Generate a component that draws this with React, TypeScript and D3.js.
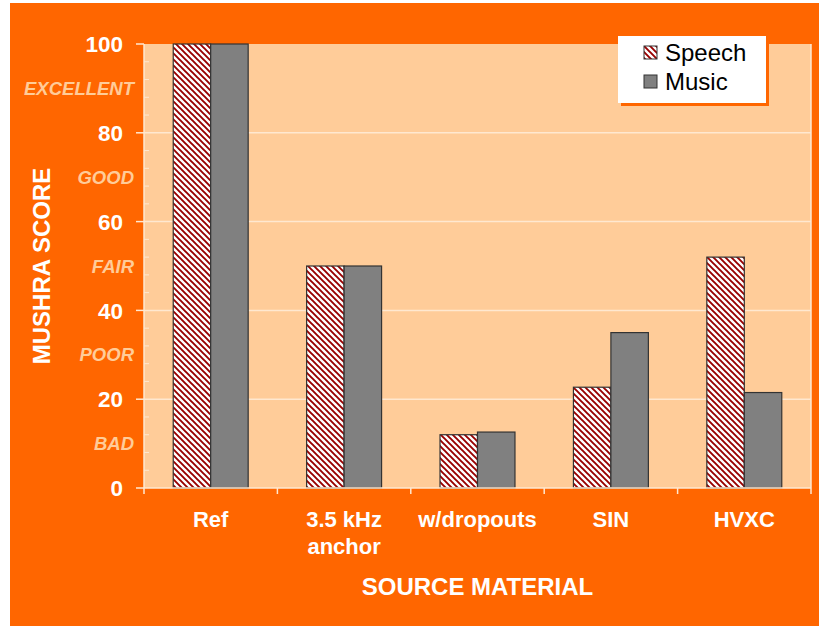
import * as d3 from 'd3'

const categories = ['Ref', '3.5 kHz\nanchor', 'w/dropouts', 'SIN', 'HVXC']
const speech = [100, 50, 12, 22.7, 52]
const music = [100, 50, 12.6, 35, 21.5]
const seriesNames = ['Speech', 'Music']
const yTicks = [0, 20, 40, 60, 80, 100]
const qualityLabels = ['BAD', 'POOR', 'FAIR', 'GOOD', 'EXCELLENT']
const qualityValues = [10, 30, 50, 70, 90]

const W = 822, H = 629
const ORANGE = '#FF6600', PEACH = '#FFCC99', LINE = '#FFE8D0'
const FONT = '"Liberation Sans", Arial, sans-serif'

export default function App() {
  const m = { top: 44, right: 11, bottom: 141, left: 144 }
  const x = d3.scaleBand().domain(categories).range([m.left, W - m.right]).paddingInner(0).paddingOuter(0)
  const xs = d3.scaleBand().domain(seriesNames).range([0, x.bandwidth()]).paddingInner(0).paddingOuter(0.78)
  const y = d3.scaleLinear().domain([0, 100]).range([H - m.bottom, m.top])
  const minor = d3.range(0, 101, 4).filter(v => v % 20 !== 0)
  const x0 = m.left, x1 = W - m.right, y0 = y(0)
  const bars = [speech, music]
  const fills = ['url(#hatch)', '#808080']

  return (
    <svg width={W} height={H} style={{ position: 'absolute', left: 0, top: 0 }} fontFamily={FONT}>
      <defs>
        <pattern id="hatch" patternUnits="userSpaceOnUse" width={6} height={6}>
          <rect width={6} height={6} fill="#fff" />
          <path d="M-1,-1L7,7M-1,5L1,7M5,-1L7,1" stroke="#990000" strokeWidth={1.9} />
        </pattern>
      </defs>
      <rect width={W} height={H} fill="#fff" />
      <rect x={10} y={3} width={809} height={623} fill={ORANGE} />
      <rect x={x0} y={m.top} width={x1 - x0} height={y0 - m.top} fill={PEACH} />

      {yTicks.filter(t => t > 0 && t < 100).map(t => (
        <line key={t} x1={x0} x2={x1} y1={y(t)} y2={y(t)} stroke={LINE} strokeWidth={1.5} />
      ))}
      <line x1={x1} x2={x1} y1={m.top} y2={y0 + 6} stroke={LINE} strokeWidth={1.5} />

      {categories.map(c => bars.map((vals, si) => {
        const v = vals[categories.indexOf(c)]
        return (
          <rect key={c + si} x={x(c)! + xs(seriesNames[si])!} y={y(v)} width={xs.bandwidth()}
            height={y0 - y(v)} fill={fills[si]} stroke="#333" strokeWidth={1.2} />
        )
      }))}

      {/* y axis */}
      <line x1={x0} x2={x0} y1={m.top} y2={y0} stroke={LINE} strokeWidth={1.5} />
      {yTicks.map(t => (
        <g key={t}>
          <line x1={x0 - 8} x2={x0} y1={y(t)} y2={y(t)} stroke={LINE} strokeWidth={1.5} />
          <text x={123} y={y(t)} dy="0.36em" textAnchor="end" fill="#fff" fontWeight="bold" fontSize={22.5}>{t}</text>
        </g>
      ))}
      {minor.map(t => (
        <line key={t} x1={x0} x2={x0 + 5} y1={y(t)} y2={y(t)} stroke={LINE} strokeWidth={1} />
      ))}
      {qualityLabels.map((q, i) => (
        <text key={q} x={134} y={y(qualityValues[i])} dy="0.36em" textAnchor="end" fill={PEACH}
          fontWeight="bold" fontStyle="italic" fontSize={18.5}>{q}</text>
      ))}
      <text transform={`translate(50,${(m.top + y0) / 2}) rotate(-90)`} textAnchor="middle" fill="#fff"
        fontWeight="bold" fontSize={24}>MUSHRA SCORE</text>

      {/* x axis */}
      <line x1={x0} x2={x1} y1={y0} y2={y0} stroke={LINE} strokeWidth={1.5} />
      {categories.map(c => (
        <line key={c} x1={x(c)!} x2={x(c)!} y1={y0} y2={y0 + 6} stroke={LINE} strokeWidth={1.5} />
      ))}
      {categories.map(c => (
        <text key={c} x={x(c)! + x.bandwidth() / 2} y={527} textAnchor="middle" fill="#fff" fontWeight="bold" fontSize={22}>
          {c.split('\n').map((s, i) => <tspan key={i} x={x(c)! + x.bandwidth() / 2} dy={i ? 27 : 0}>{s}</tspan>)}
        </text>
      ))}
      <text x={(x0 + x1) / 2} y={595} textAnchor="middle" fill="#fff" fontWeight="bold" fontSize={24}>SOURCE MATERIAL</text>

      {/* legend */}
      <rect x={621} y={39} width={148} height={67} fill={ORANGE} />
      <rect x={618} y={36} width={148} height={67} fill="#fff" />
      {seriesNames.map((s, i) => (
        <g key={s} transform={`translate(644,${46 + i * 29})`}>
          <rect width={13} height={13} fill={fills[i]} stroke="#333" strokeWidth={1} />
          <text x={21} y={15} fontSize={24} fill="#000">{s}</text>
        </g>
      ))}
    </svg>
  )
}
